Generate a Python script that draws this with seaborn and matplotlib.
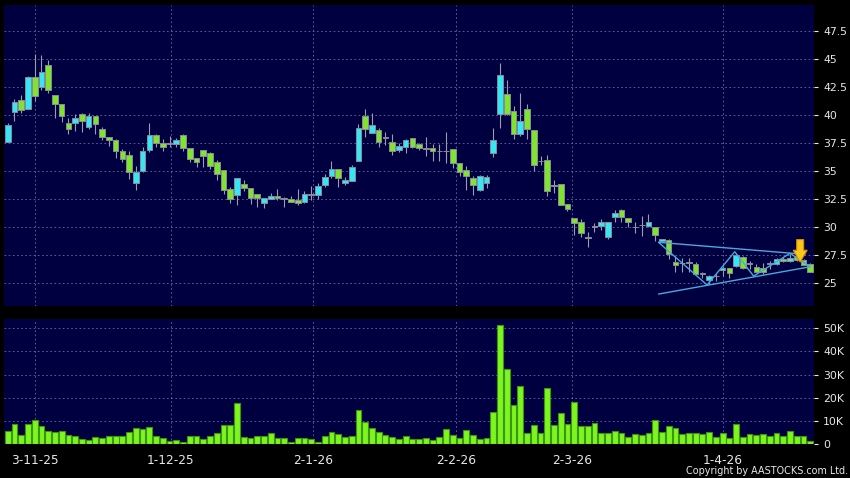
import matplotlib
matplotlib.use("Agg")
import matplotlib.pyplot as plt
import matplotlib.ticker as ticker
import seaborn as sns
import numpy as np
import pandas as pd

# Daily candles (HKD)
opens = [37.6, 40.3, 41.4, 40.6, 43.4, 42.5, 44.5, 41.8, 41.0, 39.3,
         39.3, 40.1, 39.0, 39.9, 38.75, 38.1, 37.8, 36.8, 36.5, 34.0,
         35.0, 36.9, 38.2, 37.5, 37.45, 37.45, 38.2, 37.05, 36.15, 36.9,
         36.6, 35.8, 35.1, 33.4, 32.9, 33.9, 33.5, 32.95, 32.15, 32.55,
         32.8, 32.55, 32.5, 32.45, 32.25, 32.9, 32.9, 33.8, 34.6, 35.2,
         34.0, 34.15, 35.95, 39.95, 38.45, 38.65, 38.0, 37.65, 36.9, 37.2,
         37.95, 37.4, 37.0, 37.05, 36.8, 36.8, 36.95, 35.7, 35.1, 34.4,
         33.3, 34.0, 36.6, 40.1, 41.9, 40.35, 38.3, 40.55, 38.7, 35.9,
         36.0, 33.7, 33.85, 32.05, 30.8, 30.5, 29.05, 30.05, 30.15, 29.15,
         30.95, 31.55, 30.8, 30.0, 30.2, 30.1, 30.0, 28.75, 28.85, 26.9,
         26.8, 26.85, 26.75, 25.85, 25.3, 25.65, 26.2, 26.4, 26.55, 27.35,
         26.75, 26.45, 26.4, 26.75, 26.7, 27.2, 26.95, 27.4, 27.1, 26.75]
highs = [39.3, 41.5, 41.8, 43.5, 45.5, 45.4, 44.9, 41.8, 41.0, 39.8,
         40.1, 40.2, 40.2, 39.9, 39.0, 38.1, 37.9, 37.0, 36.8, 35.5,
         37.2, 39.3, 38.3, 37.9, 38.15, 38.0, 38.3, 37.1, 36.2, 36.9,
         36.7, 36.0, 35.1, 33.6, 34.4, 34.2, 33.5, 33.0, 32.6, 33.05,
         33.4, 32.75, 32.8, 33.4, 33.2, 33.7, 34.0, 34.8, 35.9, 35.2,
         34.5, 35.55, 39.2, 40.55, 40.25, 38.9, 38.55, 38.35, 37.5, 37.85,
         38.0, 37.5, 38.1, 37.4, 37.4, 38.55, 36.95, 35.7, 35.5, 34.6,
         34.65, 34.7, 38.85, 44.7, 43.15, 40.8, 42.0, 41.05, 38.7, 36.4,
         36.5, 34.2, 33.85, 32.1, 30.85, 30.7, 29.55, 30.4, 30.7, 30.5,
         31.55, 31.6, 30.8, 30.45, 31.0, 31.15, 30.0, 29.0, 29.0, 27.45,
         27.3, 27.3, 26.9, 26.0, 25.7, 25.8, 26.55, 26.4, 27.6, 27.4,
         27.0, 26.7, 26.8, 27.0, 27.3, 27.35, 27.6, 27.7, 27.2, 26.8]
lows = [37.6, 39.5, 40.2, 40.6, 41.3, 42.3, 42.0, 39.8, 39.4, 38.3,
        38.6, 38.5, 38.8, 38.3, 37.8, 37.3, 36.2, 35.8, 34.3, 33.3,
        34.9, 36.7, 37.2, 36.8, 37.2, 37.2, 36.85, 35.8, 35.4, 35.4,
        35.2, 34.2, 33.0, 32.2, 32.0, 33.2, 32.1, 31.8, 31.7, 32.5,
        32.4, 31.85, 32.25, 32.0, 32.2, 32.45, 32.5, 33.6, 34.4, 33.6,
        33.8, 34.15, 35.9, 38.1, 38.4, 37.15, 37.35, 36.45, 36.75, 36.6,
        37.1, 36.9, 36.4, 35.9, 35.9, 35.75, 35.3, 34.6, 33.3, 32.9,
        33.2, 33.5, 36.25, 38.85, 40.0, 37.85, 38.15, 37.85, 35.05, 35.55,
        32.8, 33.05, 31.95, 31.5, 29.3, 29.1, 28.2, 29.55, 29.8, 28.95,
        30.5, 30.5, 30.0, 29.5, 29.2, 30.05, 28.8, 28.7, 27.15, 26.0,
        26.0, 26.0, 25.8, 25.45, 24.9, 25.2, 25.65, 25.5, 26.5, 26.3,
        26.25, 26.0, 25.85, 26.3, 26.65, 26.9, 26.9, 27.0, 26.6, 26.0]
closes = [39.1, 41.2, 40.5, 43.4, 41.75, 43.9, 42.3, 41.0, 39.9, 38.8,
          39.8, 39.5, 39.9, 39.2, 38.1, 37.8, 36.8, 36.1, 34.9, 34.9,
          36.8, 38.2, 37.5, 37.2, 37.45, 37.8, 37.05, 36.1, 35.8, 36.4,
          35.5, 34.75, 33.3, 32.5, 34.4, 33.5, 32.6, 32.65, 32.6, 32.8,
          32.6, 32.55, 32.3, 32.15, 32.95, 32.9, 33.7, 34.45, 35.2, 34.4,
          34.2, 35.35, 38.85, 38.75, 39.15, 37.65, 38.0, 36.85, 37.3, 37.8,
          37.2, 37.05, 37.0, 36.8, 36.8, 36.8, 35.75, 34.95, 34.6, 33.8,
          34.6, 34.5, 37.8, 43.6, 40.1, 38.3, 39.45, 38.75, 35.6, 35.9,
          33.25, 33.7, 32.0, 31.6, 30.35, 29.45, 29.15, 30.05, 30.5, 30.45,
          31.25, 30.9, 30.5, 30.0, 30.2, 30.45, 29.35, 28.95, 27.6, 26.6,
          26.8, 26.85, 25.85, 25.85, 25.65, 25.65, 26.35, 25.9, 27.5, 26.4,
          26.75, 26.05, 26.0, 26.75, 27.2, 26.95, 27.3, 27.1, 26.65, 26.05]
# Volume in thousands of shares
volumes_k = [5.8, 8.7, 4.1, 8.6, 10.3, 7.8, 5.7, 5.1, 5.5, 3.8,
             3.5, 2.2, 1.9, 3.0, 2.6, 3.6, 3.3, 3.5, 5.4, 6.8,
             6.4, 7.2, 3.6, 2.8, 1.3, 1.7, 1.0, 3.5, 3.5, 2.2,
             3.6, 4.9, 8.4, 8.3, 17.8, 3.2, 2.8, 3.5, 3.5, 4.8,
             2.8, 2.5, 1.0, 2.6, 2.6, 2.2, 0.9, 3.6, 5.2, 4.3,
             3.0, 3.5, 14.9, 9.3, 6.7, 5.1, 3.8, 2.9, 2.0, 3.5,
             2.0, 2.0, 2.6, 1.7, 3.2, 6.5, 3.9, 2.4, 5.9, 3.9,
             2.2, 2.4, 14.0, 51.3, 32.3, 17.0, 25.0, 4.6, 8.0, 4.9,
             24.2, 8.1, 13.5, 8.5, 18.2, 7.9, 7.9, 8.9, 4.6, 4.9,
             5.6, 4.8, 2.9, 4.5, 4.0, 4.8, 10.3, 5.3, 7.9, 6.8,
             4.5, 4.6, 4.6, 4.3, 5.0, 3.2, 4.6, 2.5, 8.5, 3.2,
             4.3, 3.9, 4.3, 3.5, 4.6, 3.3, 5.5, 3.4, 3.6, 1.5]

date_tick_pos = [4, 24.2, 45.3, 66.5, 83.7, 106]
date_tick_labels = ["3-11-25", "1-12-25", "2-1-26", "2-2-26", "2-3-26", "1-4-26"]
price_ticks = [25, 27.5, 30, 32.5, 35, 37.5, 40, 42.5, 45, 47.5]
vol_ticks = [0, 10000, 20000, 30000, 40000, 50000]
vol_tick_labels = ["0", "10K", "20K", "30K", "40K", "50K"]

# Hand-drawn triangle pattern (bar index, price)
tri_upper_x = [96.5, 118.2]
tri_upper_y = [28.66, 27.59]
tri_lower_x = [96.5, 119.0]
tri_lower_y = [24.04, 26.48]
zigzag_x = [96.5, 103.7, 107.8, 110.6, 116.0, 119.0]
zigzag_y = [28.66, 24.85, 27.82, 25.65, 27.68, 26.48]
arrow_x = 117.5
arrow_top, arrow_tip = 28.9, 26.9

df = pd.DataFrame({"open": opens, "high": highs, "low": lows,
                   "close": closes, "volume": np.array(volumes_k) * 1000})
df["idx"] = np.arange(len(df))

sns.set_style("dark")
plt.rcParams["font.family"] = ["DejaVu Sans"]

BG = "#000040"
GRID = "#6a6aa8"
UP = "#33e8f4"
DOWN = "#7ee42c"
FLAT = "#9a9aa8"
TXT = "#e8e8e8"

fig = plt.figure(figsize=(8.5, 4.78), dpi=100, facecolor="black")
ax = fig.add_axes([4 / 850, 1 - 305.5 / 478, 810 / 850, 300.5 / 478])
axv = fig.add_axes([4 / 850, 1 - 444 / 478, 810 / 850, 125 / 478])

for a in (ax, axv):
    a.set_facecolor(BG)
    for s in a.spines.values():
        s.set_visible(False)
    a.grid(True, color=GRID, linestyle=(0, (2, 3)), linewidth=0.6)
    a.set_axisbelow(True)

# Candles
ax.vlines(df["idx"], df["low"], df["high"], color="#9c9cac", linewidth=0.8, zorder=2)
body_bottom = df[["open", "close"]].min(axis=1)
body_height = (df["close"] - df["open"]).abs().clip(lower=0.04)
colors = np.where(df["close"] > df["open"], UP,
                  np.where(df["close"] < df["open"], DOWN, FLAT))
ax.bar(df["idx"], body_height, bottom=body_bottom, width=0.84, color=colors,
       edgecolor="#8a8a9a", linewidth=0.7, zorder=3)

# Triangle pattern lines
line_col = "#4aa8e0"
sns.lineplot(x=tri_upper_x, y=tri_upper_y, ax=ax, color=line_col, linewidth=1, sort=False, zorder=4)
sns.lineplot(x=tri_lower_x, y=tri_lower_y, ax=ax, color=line_col, linewidth=1, sort=False, zorder=4)
sns.lineplot(x=zigzag_x, y=zigzag_y, ax=ax, color=line_col, linewidth=1, sort=False, zorder=4)

ax.annotate("", xy=(arrow_x, arrow_tip), xytext=(arrow_x, arrow_top),
            arrowprops=dict(arrowstyle="simple,head_width=1.0,head_length=0.85,tail_width=0.5",
                            fc="#f8c81c", ec="#e08a00", lw=0.8, shrinkA=0, shrinkB=0),
            zorder=5)

ax.set_xlim(-0.55, 119.55)
ax.set_ylim(23.02, 49.85)
ax.set_yticks(price_ticks)
ax.yaxis.set_major_formatter(ticker.FuncFormatter(lambda v, p: f"{v:g}"))
ax.yaxis.tick_right()
ax.set_xticks(date_tick_pos)
ax.tick_params(axis="x", length=0, labelbottom=False)
ax.tick_params(axis="y", colors=TXT, labelcolor=TXT, length=3, width=0.8, pad=3.5, labelsize=7.8)
ax.set_xlabel("")
ax.set_ylabel("")

# Volume
sns.barplot(data=df, x="idx", y="volume", native_scale=True, ax=axv, color="#7df51e",
            saturation=1, edgecolor="#3c9412", linewidth=0.8, width=0.86, errorbar=None, zorder=3)
axv.set_xlim(-0.55, 119.55)
axv.set_ylim(0, 54000)
axv.set_yticks(vol_ticks)
axv.set_yticklabels(vol_tick_labels)
axv.yaxis.tick_right()
axv.set_xticks(date_tick_pos)
axv.set_xticklabels(date_tick_labels)
axv.tick_params(axis="x", colors=TXT, labelcolor=TXT, length=3, width=0.8, pad=4, labelsize=8.7)
axv.tick_params(axis="y", colors=TXT, labelcolor=TXT, length=3, width=0.8, pad=3.5, labelsize=7.8)
axv.set_xlabel("")
axv.set_ylabel("")

fig.text(848 / 850, 1 - 471 / 478, "Copyright by AASTOCKS.com Ltd.", ha="right", va="center",
         color=TXT, fontsize=6.9)

fig.savefig("out.png", dpi=100, facecolor="black")
